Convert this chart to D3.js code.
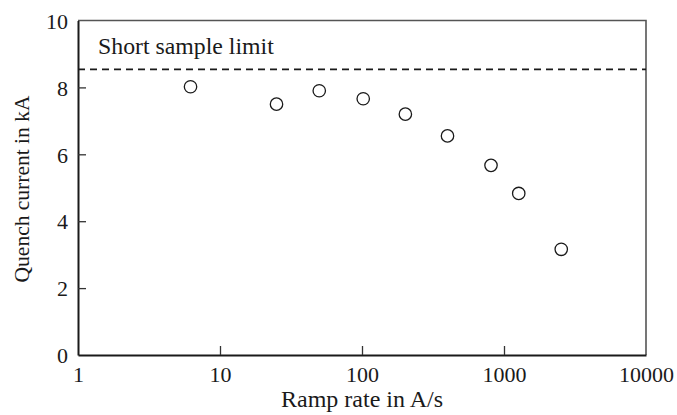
<!DOCTYPE html>
<html>
<head>
<meta charset="utf-8">
<style>
  body { margin: 0; background: #fff; }
  text { font-family: "Liberation Serif", "Times New Roman", serif; fill: #1a1a1a; }
</style>
</head>
<body>
<div id="chart"></div>
<script src="https://cdn.jsdelivr.net/npm/d3@7"></script>
<script>
    var width = 677,
        height = 415;

    // data
    var rampRate = [6.2, 25, 50, 102, 202, 400, 810, 1270, 2530];
    var quenchCurrent = [8.02, 7.50, 7.90, 7.66, 7.20, 6.55, 5.67, 4.83, 3.16];
    var shortSampleLimit = 8.54;
    var xTicks = [1, 10, 100, 1000, 10000];
    var yTicks = [0, 2, 4, 6, 8, 10];

    var margin = {left: 78, right: 31, top: 20.5, bottom: 60};

    var svg = d3.select('#chart')
        .append('svg')
        .attr('width', width)
        .attr('height', height);

    var x = d3.scaleLog()
        .domain([1, 10000])
        .range([margin.left, width - margin.right]);

    var y = d3.scaleLinear()
        .domain([0, 10])
        .range([height - margin.bottom, margin.top]);

    // frame (top and right)
    svg.append('path')
        .attr('d', 'M' + x(1) + ',' + y(10) + 'H' + x(10000) + 'V' + y(0))
        .attr('fill', 'none')
        .attr('stroke', '#555')
        .attr('stroke-width', 1.6);

    // x axis, ticks pointing in
    var xAxis = svg.append('g')
        .attr('transform', 'translate(0,' + y(0) + ')')
        .call(d3.axisBottom(x).tickValues(xTicks).tickFormat(d3.format('d'))
            .tickSizeInner(-9).tickSizeOuter(0).tickPadding(11));

    // y axis
    var yAxis = svg.append('g')
        .attr('transform', 'translate(' + x(1) + ',0)')
        .call(d3.axisLeft(y).tickValues(yTicks)
            .tickSizeInner(-8).tickSizeOuter(0).tickPadding(10));

    [xAxis, yAxis].forEach(function(a){
        a.select('.domain').attr('stroke', '#1a1a1a').attr('stroke-width', 2);
        a.selectAll('.tick line').attr('stroke', '#333').attr('stroke-width', 1.3);
        a.selectAll('.tick text').style('font-size', '22px').attr('fill', '#1a1a1a')
            .style('font-family', '"Liberation Serif", serif');
    });
    yAxis.selectAll('.tick text').attr('dy', '0.35em');
    // hide tick marks at the corners
    xAxis.selectAll('.tick line').filter(function(d){ return d == 1 || d == 10000; }).remove();
    yAxis.selectAll('.tick line').filter(function(d){ return d == 0 || d == 10; }).remove();

    // short sample limit
    svg.append('line')
        .attr('x1', x(1))
        .attr('x2', x(10000))
        .attr('y1', y(shortSampleLimit))
        .attr('y2', y(shortSampleLimit))
        .attr('stroke', '#1a1a1a')
        .attr('stroke-width', 1.6)
        .attr('stroke-dasharray', '7,5');

    svg.append('text')
        .attr('x', 98)
        .attr('y', 54)
        .style('font-size', '23.8px')
        .text('Short sample limit');

    // data points
    svg.selectAll('circle')
        .data(rampRate)
        .enter().append('circle')
        .attr('cx', function(d){ return x(d); })
        .attr('cy', function(d, i){ return y(quenchCurrent[i]); })
        .attr('r', 6.2)
        .attr('fill', 'none')
        .attr('stroke', '#1a1a1a')
        .attr('stroke-width', 1.3);

    // axis titles
    svg.append('text')
        .attr('x', (x(1) + x(10000)) / 2)
        .attr('y', 407)
        .attr('text-anchor', 'middle')
        .style('font-size', '24px')
        .text('Ramp rate in A/s');

    svg.append('text')
        .attr('transform', 'translate(29,' + 189 + ') rotate(-90)')
        .attr('text-anchor', 'middle')
        .style('font-size', '21.5px')
        .text('Quench current in kA');
</script>
</body>
</html>
